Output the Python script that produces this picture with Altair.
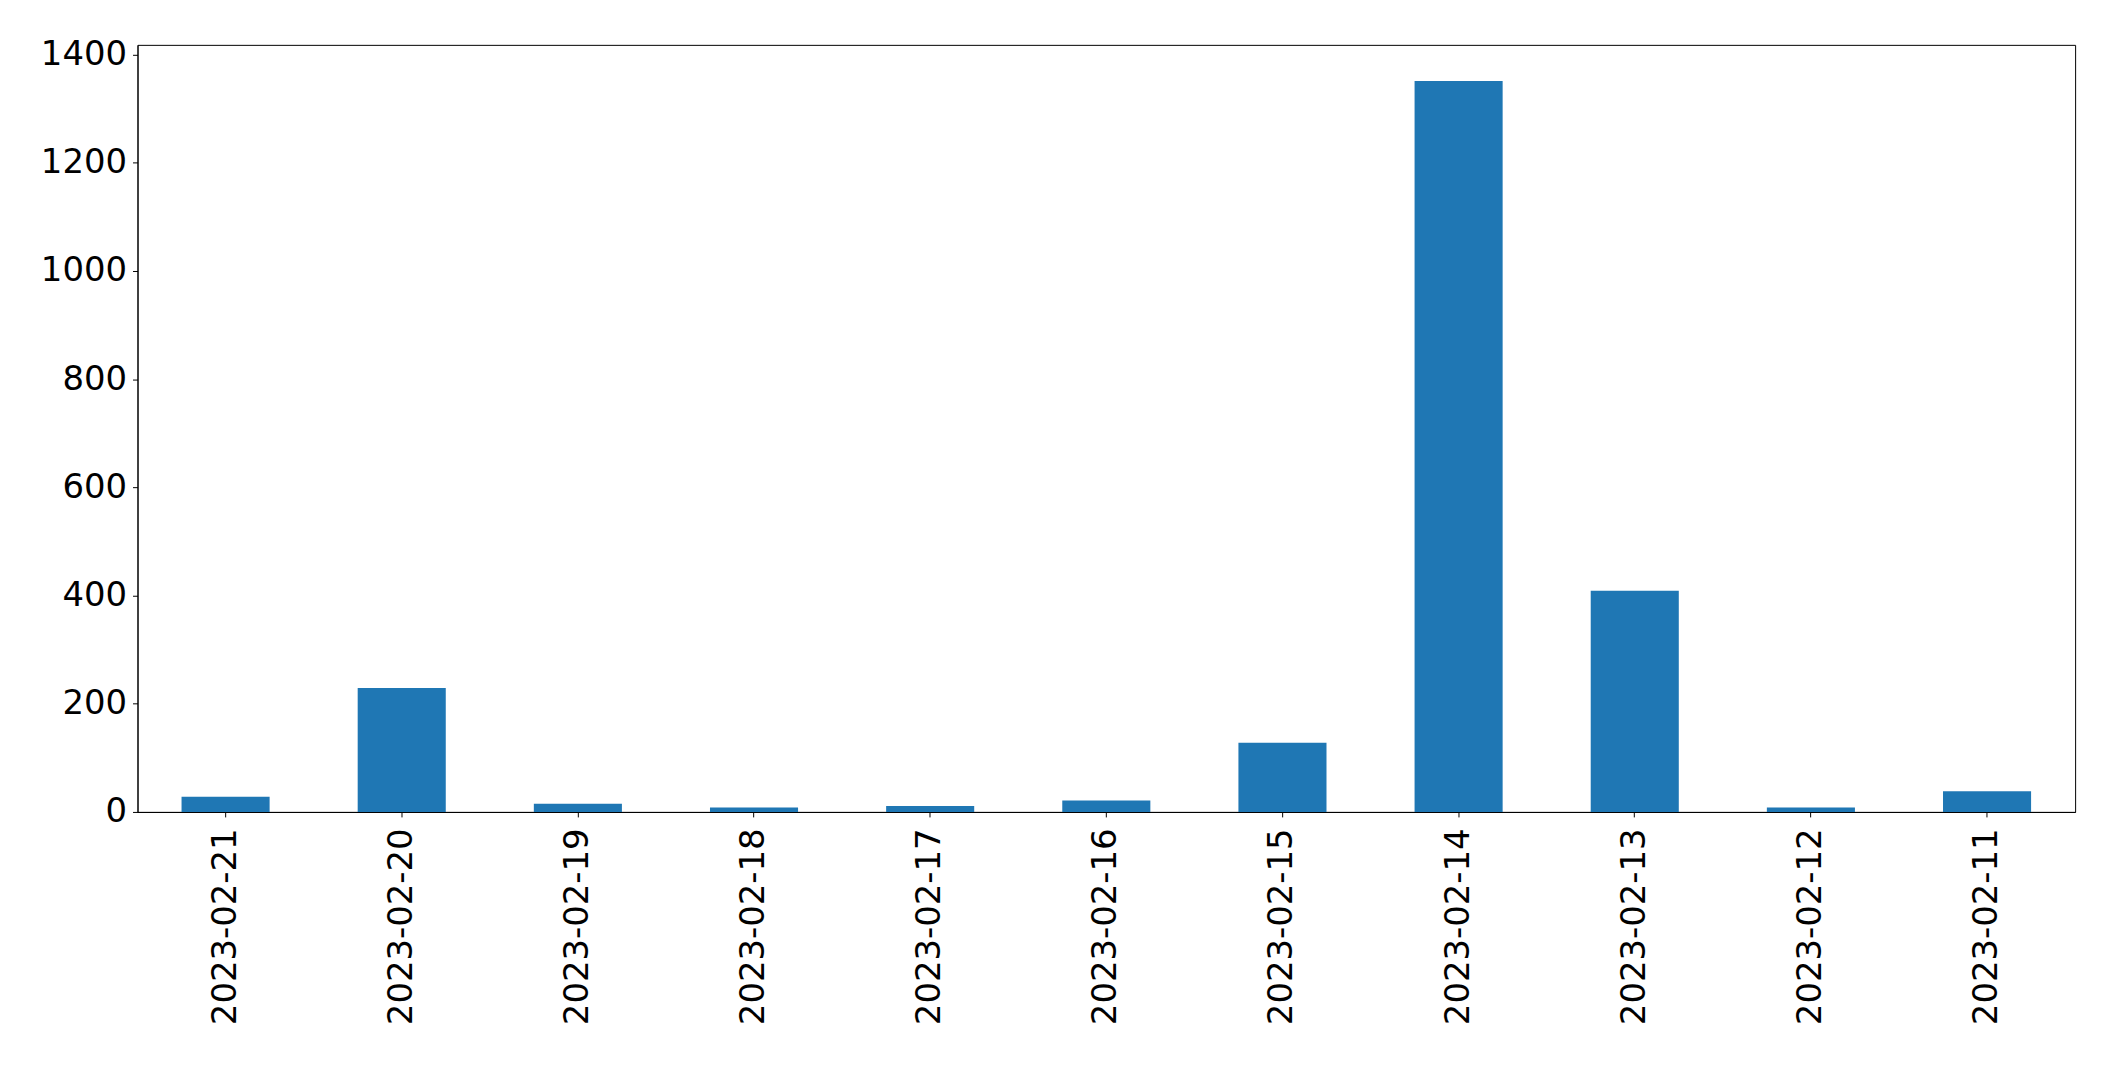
import altair as alt
import pandas as pd

dates = ["2023-02-21", "2023-02-20", "2023-02-19", "2023-02-18", "2023-02-17",
         "2023-02-16", "2023-02-15", "2023-02-14", "2023-02-13", "2023-02-12",
         "2023-02-11"]
counts = [28, 229, 15, 8, 11, 21, 128, 1351, 409, 8, 38]

df = pd.DataFrame({"date": dates, "count": counts})

FONT = "DejaVu Sans"

chart = alt.Chart(df).mark_bar(color="#1f77b4").encode(
    x=alt.X("date:N", sort=None, title=None,
            scale=alt.Scale(paddingInner=0.5, paddingOuter=0.25),
            axis=alt.Axis(labelAngle=270, labelFontSize=34, labelFont=FONT,
                          labelColor="black", tickColor="black", tickSize=5,
                          tickWidth=1, labelPadding=11, domainColor="black",
                          domainWidth=1, labelLimit=0)),
    y=alt.Y("count:Q", title=None,
            scale=alt.Scale(domain=[0, 1418], nice=False, zero=True),
            axis=alt.Axis(values=[0, 200, 400, 600, 800, 1000, 1200, 1400],
                          format="d",
                          labelFontSize=34, labelFont=FONT, labelColor="black",
                          tickColor="black", tickSize=5, tickWidth=1,
                          labelPadding=6, grid=False, domainColor="black",
                          domainWidth=1, labelLimit=0)),
).properties(
    width=1945,
    height=770,
    autosize=alt.AutoSizeParams(type="none"),
    padding={"left": 130, "top": 35, "right": 32, "bottom": 240},
).configure(
    background="white",
    view=alt.ViewConfig(stroke="black", strokeWidth=1),
)

chart.save("out.html", embed_options={"renderer": "svg", "actions": False})
